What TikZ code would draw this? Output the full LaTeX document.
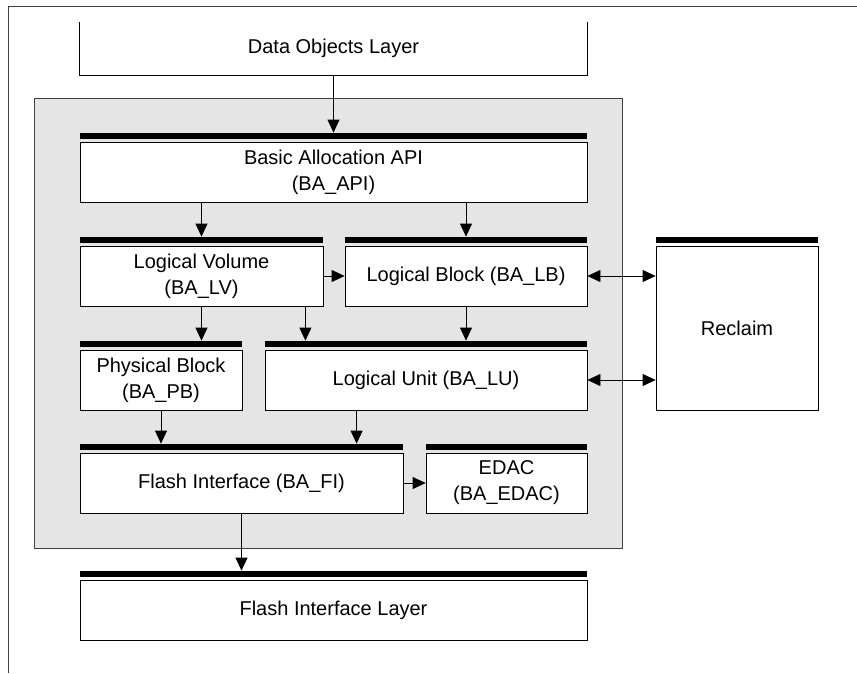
\documentclass[tikz,border=0pt]{standalone}
\usepackage{fontspec}
\setmainfont{Liberation Sans}
\usetikzlibrary{arrows.meta, positioning, calc}

\tikzset{
  blk/.style={draw, line width=0.8pt, fill=white, align=center, inner sep=0pt,
    font=\fontsize{20}{26}\selectfont},
  arr/.style={-{Triangle[length=13pt,width=12pt]}, line width=0.8pt},
  darr/.style={{Triangle[length=13pt,width=12pt]}-{Triangle[length=13pt,width=12pt]}, line width=0.8pt},
}

\begin{document}
\begin{tikzpicture}[x=1pt, y=-1pt]
    \useasboundingbox (0,0) rectangle (857,673);

    % Outer frame (top and left only)
    \draw[black!75, line width=0.8pt] (8,673) |- (857,6);

    % Data objects layer (open at the top)
    \node[blk, draw=none, minimum width=507pt, minimum height=53pt] (dol) at (333.5,48.5) {Data Objects Layer};
    \draw[line width=0.8pt] (dol.north west) |- (dol.south east) -- (dol.north east);

    % Basic allocation container
    \node[draw=black!75, fill=black!10, line width=0.8pt, minimum width=588pt, minimum height=450pt, inner sep=0pt] (ba) at (328,323) {};

    % Blocks
    \node[blk, minimum width=507pt, minimum height=60pt] (api) at (333.5,172) {Basic Allocation API\\(BA\_API)};
    \node[blk, minimum width=243pt, minimum height=60pt] (lv) at (201.5,276) {Logical Volume\\(BA\_LV)};
    \node[blk, minimum width=242pt, minimum height=60pt] (lb) at (466,276) {Logical Block (BA\_LB)};
    \node[blk, minimum width=162pt, minimum height=164pt] (rec) at (737,328) {Reclaim};
    \node[blk, minimum width=162pt, minimum height=60pt] (pb) at (161,380) {Physical Block\\(BA\_PB)};
    \node[blk, minimum width=322pt, minimum height=60pt] (lu) at (426,380) {Logical Unit (BA\_LU)};
    \node[blk, minimum width=323pt, minimum height=60pt] (fi) at (241.5,483) {Flash Interface (BA\_FI)};
    \node[blk, minimum width=161pt, minimum height=60pt] (edac) at (506.5,483) {EDAC\\(BA\_EDAC)};
    \node[blk, minimum width=507pt, minimum height=60pt] (fil) at (333.5,610) {Flash Interface Layer};

    % Thick bars on top of the blocks
    \foreach \n in {api,lv,lb,rec,pb,lu,fi,edac,fil}{
        \fill ([yshift=3pt]\n.north west) rectangle ([yshift=9pt]\n.north east);
        \coordinate (\n-top) at ([yshift=9pt]\n.north);
    }

    % Connections
    \draw[arr] (dol.south) -- (api-top);
    \draw[arr] (api.south -| lv) -- (lv-top);
    \draw[arr] (api.south -| lb) -- (lb-top);
    \draw[arr] (lv.east) -- (lb.west);
    \draw[darr] (lb.east) -- (lb.east -| rec.west);
    \draw[arr] (lv.south) -- (lv.south |- pb-top);
    \coordinate (lvlu) at ([xshift=-18pt]lv.south east);
    \draw[arr] (lvlu) -- (lvlu |- lu-top);
    \draw[arr] (lb.south) -- (lb.south |- lu-top);
    \draw[darr] (lu.east) -- (lu.east -| rec.west);
    \draw[arr] (pb.south) -- (pb.south |- fi-top);
    \coordinate (lufi) at ([xshift=92pt]lu.south west);
    \draw[arr] (lufi) -- (lufi |- fi-top);
    \draw[arr] (fi.east) -- (edac.west);
    \draw[arr] (fi.south) -- (fi.south |- fil-top);
\end{tikzpicture}
\end{document}
